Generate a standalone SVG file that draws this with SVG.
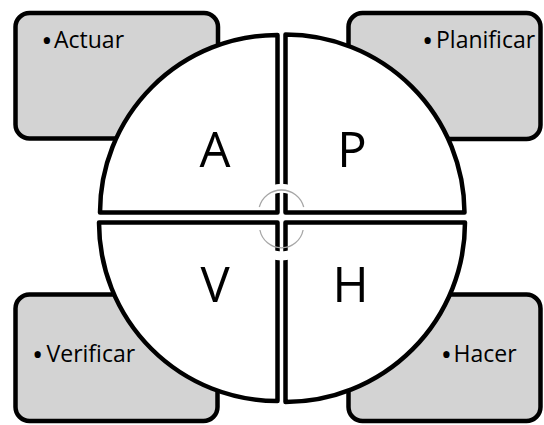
<svg xmlns="http://www.w3.org/2000/svg" width="544" height="425" viewBox="0 0 544 425">
<style>
.box{fill:#d3d3d3;stroke:#000;stroke-width:4.5}
.quad{fill:#fff;stroke:#000;stroke-width:4.5;stroke-linejoin:round}
.lbl{font-family:"Open Sans","Liberation Sans",sans-serif;font-size:23px;fill:#000}
.bul{font-size:30px}
.big{font-family:"Open Sans","Liberation Sans",sans-serif;font-size:49px;fill:#000;text-anchor:middle}
.band{fill:none;stroke:#fff;stroke-width:9}
.garc{fill:none;stroke:#a6a6a6;stroke-width:1.3}
</style>
<g id="box-actuar">
<rect class="box" x="15.5" y="13" width="202.5" height="125.5" rx="14"/>
<text class="lbl" y="47.7"><tspan class="bul" x="41.3" dy="3">•</tspan><tspan x="54" dy="-3">Actuar</tspan></text>
</g>
<g id="box-planificar">
<rect class="box" x="348.5" y="13" width="192" height="126" rx="14"/>
<text class="lbl" y="47.7"><tspan class="bul" x="422" dy="3">•</tspan><tspan x="436" dy="-3">Planificar</tspan></text>
</g>
<g id="box-verificar">
<rect class="box" x="15.5" y="294.5" width="202" height="126.5" rx="14"/>
<text class="lbl" y="362"><tspan class="bul" x="32" dy="3">•</tspan><tspan x="46.5" dy="-3">Verificar</tspan></text>
</g>
<g id="box-hacer">
<rect class="box" x="348.5" y="294.5" width="192" height="126.5" rx="14"/>
<text class="lbl" y="362"><tspan class="bul" x="440.7" dy="3">•</tspan><tspan x="453.5" dy="-3">Hacer</tspan></text>
</g>
<g id="quad-A">
<path class="quad" d="M277.5 212.5 H100 A177.5 177.5 0 0 1 277.5 35 Z"/>
<text class="big" x="215" y="166.7">A</text>
</g>
<g id="quad-P">
<path class="quad" d="M285.5 212.5 V34.5 A179 179 0 0 1 464.5 212.5 Z"/>
<text class="big" x="352" y="167">P</text>
</g>
<g id="quad-V">
<path class="quad" d="M277.5 222.5 H99 A178.5 178.5 0 0 0 277.5 401 Z"/>
<text class="big" x="215" y="302">V</text>
</g>
<g id="quad-H">
<path class="quad" d="M285.5 222.5 V402 A179.5 179.5 0 0 0 465 222.5 Z"/>
<text class="big" x="350.5" y="302">H</text>
</g>
<g id="connectors">
<path class="band" d="M257.4 206.5 A25 25 0 0 1 305.6 206.5"/>
<path class="garc" d="M259.3 207 A23 23 0 0 1 303.7 207"/>
<path class="band" d="M310 234 A29.5 29.5 0 0 1 253 234"/>
<path class="garc" d="M303.1 230 A22 22 0 0 1 259.9 230"/>
</g>
</svg>
